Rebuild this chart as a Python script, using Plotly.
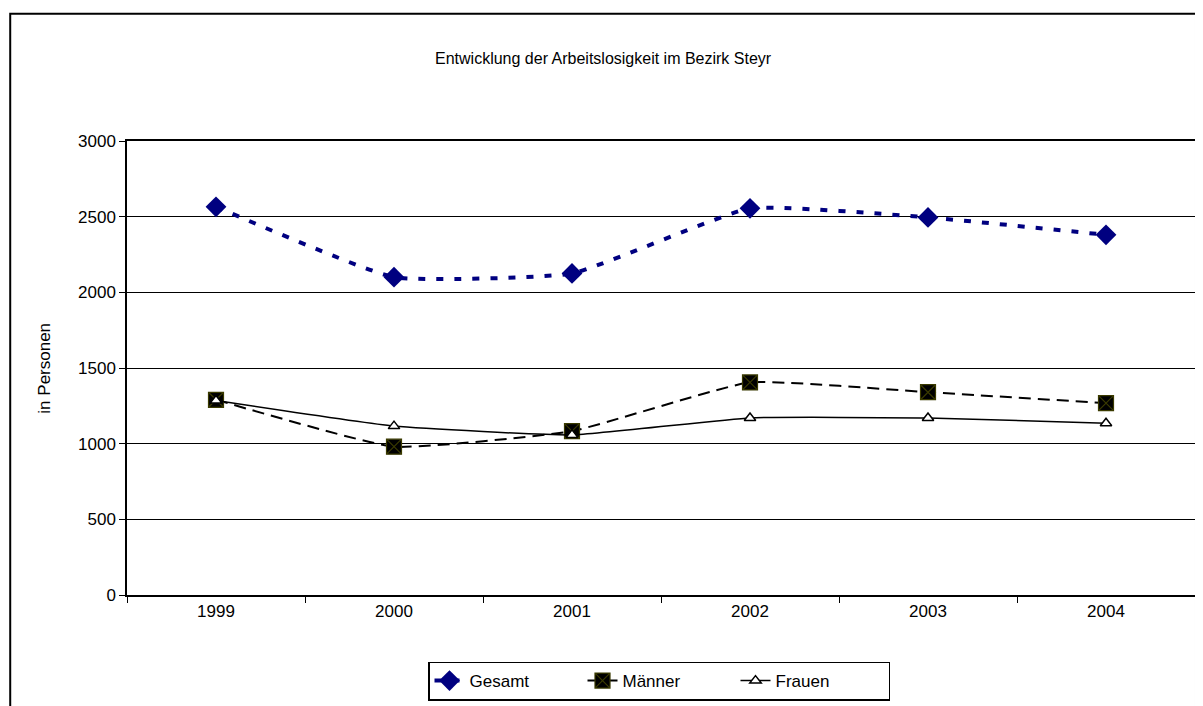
import plotly.graph_objects as go

years = ["1999", "2000", "2001", "2002", "2003", "2004"]
gesamt = [2565, 2100, 2125, 2555, 2495, 2380]
maenner = [1290, 980, 1083, 1405, 1340, 1268]
frauen = [1285, 1116, 1058, 1170, 1170, 1135]

FONT = "Liberation Sans, Arial, sans-serif"
FS = 17

fig = go.Figure()
fig.add_trace(go.Scatter(
    x=years, y=gesamt, name="Gesamt", mode="lines+markers",
    line=dict(color="#000080", width=4, dash="7px,11px", shape="spline", smoothing=0.4),
    marker=dict(symbol="diamond", size=16, color="#000080"),
))
fig.add_trace(go.Scatter(
    x=years, y=maenner, name="Männer", mode="lines+markers",
    line=dict(color="black", width=2, dash="12px,7px", shape="spline", smoothing=0.4),
    marker=dict(symbol="square-x", size=15, color="black",
                line=dict(color="#3a3a00", width=1.2)),
))
fig.add_trace(go.Scatter(
    x=years, y=frauen, name="Frauen", mode="lines+markers",
    line=dict(color="black", width=1.5, shape="spline", smoothing=0.4),
    marker=dict(symbol="triangle-up", size=10, color="white",
                line=dict(color="black", width=1.5)),
))

# page has an 8px body margin; work in page coordinates and convert
OFF = 8
W, H = 1195, 698
ml, mr, mt, mb = 127 - OFF, 6, 141 - OFF, 108
pw, ph = W - ml - mr, H - mt - mb


def px_x(p):
    return (p - OFF - ml) / pw


def px_y(p):
    return (H - mb - (p - OFF)) / ph


fig.update_layout(
    width=W, height=H,
    margin=dict(l=ml, r=mr, t=mt, b=mb),
    paper_bgcolor="white", plot_bgcolor="white",
    font=dict(family=FONT, size=FS, color="black"),
    title=dict(text="Entwicklung der Arbeitslosigkeit im Bezirk Steyr",
               x=px_x(604), xanchor="center", xref="paper",
               y=1 - (58 - OFF) / H, yanchor="middle",
               font=dict(family=FONT, size=16, color="black")),
    showlegend=True,
    legend=dict(orientation="h", x=px_x(660), xanchor="center",
                y=px_y(665), yanchor="top",
                bordercolor="black", borderwidth=1.5, bgcolor="white",
                font=dict(family=FONT, size=FS, color="black"),
                entrywidth=108, entrywidthmode="pixels", tracegroupgap=0),
    shapes=[dict(type="rect", xref="paper", yref="paper",
                 x0=px_x(10), x1=px_x(1198), y0=px_y(712), y1=px_y(13),
                 line=dict(color="black", width=2), layer="below")],
    annotations=[dict(text="in Personen", xref="paper", yref="paper",
                      x=px_x(44), y=px_y(370), xanchor="center", yanchor="middle",
                      textangle=-90, showarrow=False,
                      font=dict(family=FONT, size=FS, color="black"))],
)

fig.update_xaxes(
    type="category", range=[-0.5, 5.5],
    showline=True, linecolor="black", linewidth=1.5, mirror=True,
    showgrid=False, ticks="outside", ticklen=6, tickcolor="black",
    tickson="boundaries", tickfont=dict(family=FONT, size=FS, color="black"),
)
fig.update_yaxes(
    range=[0, 3000], tickvals=[0, 500, 1000, 1500, 2000, 2500, 3000],
    showline=True, linecolor="black", linewidth=1.5, mirror=True,
    showgrid=True, gridcolor="black", gridwidth=1.2,
    ticks="outside", ticklen=6, tickcolor="black", zeroline=False,
    tickfont=dict(family=FONT, size=FS, color="black"),
)

fig.write_html("out.html")
